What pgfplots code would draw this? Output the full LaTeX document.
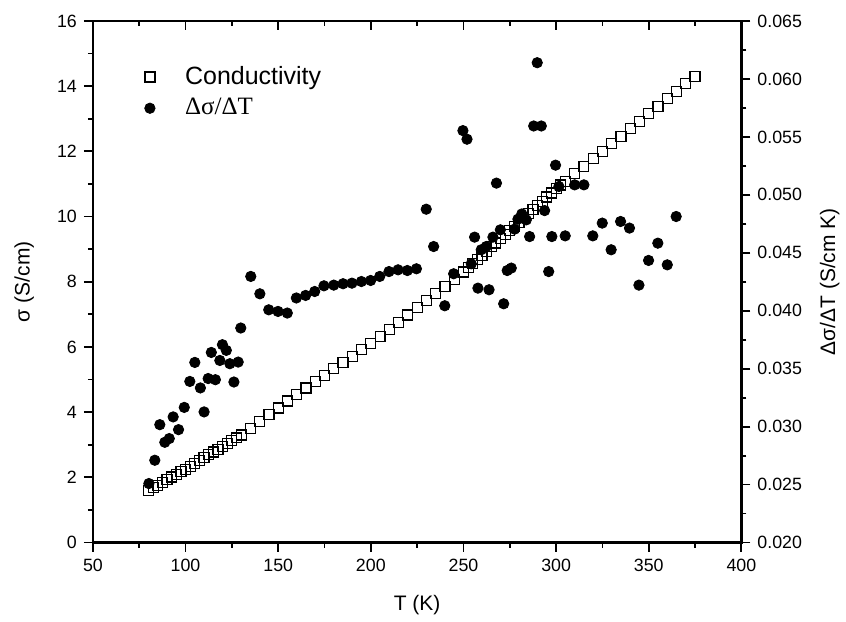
\documentclass[border=0pt]{standalone}
\usepackage{pgfplots}
\pgfplotsset{compat=1.18}
\usepackage{fontspec}
\setmainfont{Liberation Sans}
\newfontfamily\greekserif{Liberation Serif}

% conductivity sigma (S/cm) vs T (K)
\pgfplotstableread{
T sigma
80 1.60
82.5 1.68
85 1.76
87.5 1.84
90 1.93
92.5 2.01
95 2.09
97.5 2.17
100 2.25
102.5 2.34
105 2.43
107.5 2.51
110 2.60
112.5 2.69
115 2.78
117.5 2.86
120 2.95
122.5 3.04
125 3.13
127.5 3.21
130 3.30
135 3.51
140 3.72
145 3.93
150 4.13
155 4.34
160 4.55
165 4.74
170 4.94
175 5.13
180 5.33
185 5.52
190 5.71
195 5.91
200 6.10
205 6.32
210 6.54
215 6.76
220 6.98
225 7.20
230 7.42
235 7.64
240 7.86
245 8.08
250 8.30
252.5 8.43
255 8.56
257.5 8.68
260 8.81
262.5 8.94
265 9.07
267.5 9.19
270 9.32
272.5 9.45
275 9.58
277.5 9.70
280 9.83
282.5 9.96
285 10.09
287.5 10.21
290 10.34
292.5 10.47
295 10.60
297.5 10.72
300 10.85
302.5 10.97
305 11.08
310 11.31
315 11.54
320 11.77
325 12.00
330 12.23
335 12.46
340 12.69
345 12.92
350 13.15
355 13.38
360 13.61
365 13.84
370 14.07
375 14.30
}\condtable

% d sigma / dT (S/cm K) vs T (K)
\pgfplotstableread{
T dsdt
80.2 0.02509
83.4 0.02710
86.1 0.03017
88.8 0.02865
91.2 0.02897
93.3 0.03084
96.2 0.02974
99.3 0.03166
102.3 0.03390
105.0 0.03554
108.0 0.03334
110.0 0.03127
112.2 0.03415
113.9 0.03640
116.1 0.03405
118.5 0.03571
119.9 0.03707
122.0 0.03658
123.9 0.03543
126.1 0.03385
128.4 0.03557
129.8 0.03851
135.2 0.04296
140.1 0.04146
144.9 0.04008
149.9 0.03994
154.9 0.03980
159.8 0.04110
164.8 0.04132
169.7 0.04166
174.7 0.04215
180.0 0.04221
185.0 0.04233
189.8 0.04238
194.9 0.04252
199.9 0.04261
204.8 0.04296
209.8 0.04338
214.7 0.04353
219.7 0.04347
224.6 0.04362
229.9 0.04876
233.9 0.04554
239.9 0.04043
244.7 0.04319
249.7 0.05554
251.9 0.05480
254.2 0.04405
256.0 0.04635
257.8 0.04195
259.6 0.04526
262.3 0.04554
263.8 0.04181
265.9 0.04635
267.8 0.05101
269.9 0.04698
271.7 0.04060
273.6 0.04347
275.8 0.04368
277.6 0.04704
279.4 0.04790
281.5 0.04835
283.9 0.04784
285.7 0.04640
287.9 0.05594
289.8 0.06140
292.0 0.05594
293.8 0.04864
296.0 0.04338
297.7 0.04640
299.7 0.05256
301.5 0.05072
304.9 0.04646
310.0 0.05086
315.0 0.05086
319.8 0.04646
324.9 0.04756
329.7 0.04526
334.8 0.04770
339.6 0.04713
344.7 0.04221
349.9 0.04434
354.9 0.04583
360.0 0.04396
364.8 0.04813
}\dsdttable

\pgfplotsset{
  every axis/.append style={
    scale only axis, width=324.5pt, height=261pt,
    xmin=50, xmax=400,
    xtick={50,100,...,400}, minor x tick num=1,
    major tick length=4.5pt, minor tick length=2.5pt,
    every tick/.style={black, line width=0.9pt},
    tick label style={font=\fontsize{8.9}{10}\selectfont},
    /pgf/number format/assume math mode=true,
    axis line style={line width=1.2pt},
    label style={font=\fontsize{10.5}{12}\selectfont},
  },
  condmark/.style={only marks, mark=square, mark size=2.5pt,
    mark options={draw=black, fill=white, line width=0.6pt}},
  dotmark/.style={only marks, mark=*, mark size=2.6pt,
    mark options={draw=black, fill=black}},
}

\begin{document}
\begin{tikzpicture}

% left axis: conductivity
\begin{axis}[
    ymin=0, ymax=16,
    ytick={0,2,...,16}, minor y tick num=1,
    xtick pos=bottom, ytick pos=left,
    tick align=outside,
    xlabel={T (K)},
    ylabel={σ (S/cm)},
    xlabel style={at={(axis description cs:0.5,-0.119)}, anchor=center},
    ylabel style={at={(axis description cs:-0.106,0.5)}, anchor=center},
]
\addplot[condmark] table[x=T, y=sigma] {\condtable};
\end{axis}

% top ticks, pointing in
\begin{axis}[
    ymin=0, ymax=1,
    axis x line*=top, axis y line=none,
    x axis line style={-},
    tick align=inside,
    xticklabels={},
]
\end{axis}

% right axis: d sigma / dT
\begin{axis}[
    ymin=0.020, ymax=0.065,
    ytick={0.020,0.025,0.030,0.035,0.040,0.045,0.050,0.055,0.060,0.065},
    minor y tick num=1,
    axis y line*=right, axis x line=none,
    y axis line style={-},
    tick align=outside,
    scaled y ticks=false,
    yticklabel style={/pgf/number format/.cd, fixed, fixed zerofill, precision=3},
    ylabel={Δσ/ΔT (S/cm K)},
    ylabel style={at={(axis description cs:1.136,0.5)}, anchor=center},
    legend style={at={(axis description cs:0.07,0.929)}, anchor=north west,
      draw=none, fill=none, font=\fontsize{12.5}{15}\selectfont,
      row sep=1.5pt, cells={anchor=west},
      /tikz/every odd column/.append style={column sep=13pt}},
    legend cell align=left,
]
\addlegendimage{condmark}
\addlegendentry{Conductivity}
\addplot[dotmark] table[x=T, y=dsdt] {\dsdttable};
\addlegendentry{{\greekserif Δσ/ΔT}}
\end{axis}

\path (current axis.south west) ++(-46.5pt,-39pt) rectangle ++(423pt,310.5pt);
\end{tikzpicture}
\end{document}
